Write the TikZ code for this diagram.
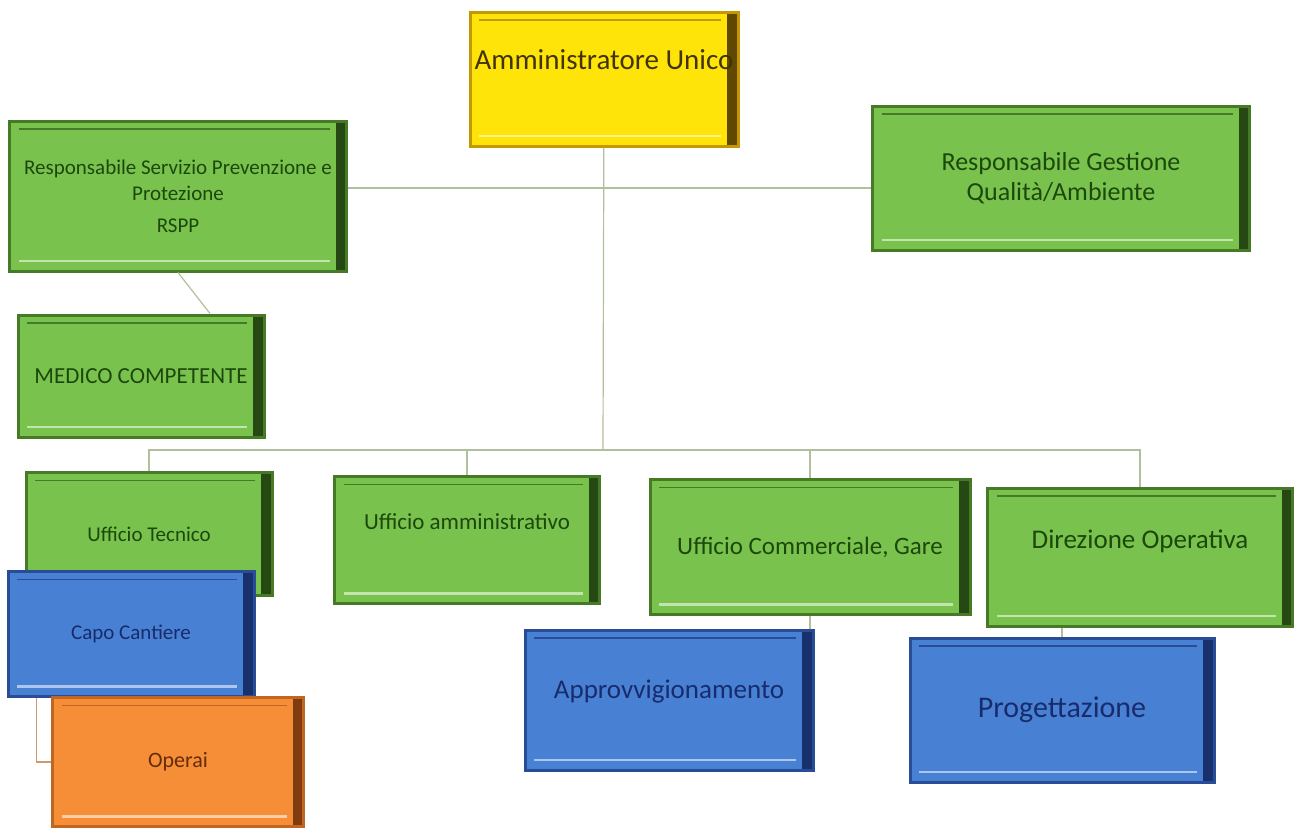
\documentclass[tikz,border=0pt]{standalone}
\usepackage{fontspec}
\setmainfont{Carlito}
\usepackage{xcolor}
\definecolor{verdeF}{RGB}{122,194,78}
\definecolor{verdeB}{RGB}{70,122,38}
\definecolor{verdeS}{RGB}{38,72,18}
\definecolor{verdeT}{RGB}{28,72,12}
\definecolor{gialloF}{RGB}{255,228,10}
\definecolor{gialloB}{RGB}{196,152,0}
\definecolor{gialloS}{RGB}{96,72,0}
\definecolor{gialloT}{RGB}{66,52,0}
\definecolor{bluF}{RGB}{72,128,212}
\definecolor{bluB}{RGB}{40,76,150}
\definecolor{bluS}{RGB}{24,48,108}
\definecolor{bluT}{RGB}{24,44,108}
\definecolor{arancioF}{RGB}{246,142,56}
\definecolor{arancioB}{RGB}{192,102,34}
\definecolor{arancioS}{RGB}{128,60,14}
\definecolor{arancioT}{RGB}{100,44,10}
\definecolor{linea}{RGB}{176,192,156}
\definecolor{lineaO}{RGB}{206,152,112}
\usepackage{tikz}
\usetikzlibrary{positioning}

\tikzset{
  box/.style n args={4}{draw=#2, line width=3pt, fill=#1, text=#4,
    align=center, inner sep=2pt,
    path picture={
      \fill[#3] ([xshift=-11pt]path picture bounding box.north east) rectangle (path picture bounding box.south east);
      \draw[#1!45!white, line width=2.5pt] ([shift={(9pt,10pt)}]path picture bounding box.south west) -- ([shift={(-17pt,10pt)}]path picture bounding box.south east);
      \draw[#2, line width=1.5pt] ([shift={(9pt,-8pt)}]path picture bounding box.north west) -- ([shift={(-17pt,-8pt)}]path picture bounding box.north east);
    }},
  verde/.style={box={verdeF}{verdeB}{verdeS}{verdeT}},
  giallo/.style={box={gialloF}{gialloB}{gialloS}{gialloT}},
  blu/.style={box={bluF}{bluB}{bluS}{bluT}},
  arancio/.style={box={arancioF}{arancioB}{arancioS}{arancioT}},
  conn/.style={draw=linea, line width=1.2pt},
}

\begin{document}
\begin{tikzpicture}[x=1pt,y=-1pt]
  \useasboundingbox (0,0) rectangle (1294,828);

  % Vertice
  \node[giallo, minimum width=268, minimum height=134, text depth=38pt,
        font=\fontsize{29}{34}\selectfont] (admin) at (604,79) {Amministratore Unico};

  % Staff
  \node[verde, minimum width=337, minimum height=150,
        font=\fontsize{21}{26}\selectfont] (rspp) at (178,196)
        {Responsabile Servizio Prevenzione e\\Protezione\\[6pt]RSPP};
  \node[verde, minimum width=377, minimum height=144,
        font=\fontsize{26}{30}\selectfont] (qual) at (1061,178)
        {Responsabile Gestione\\Qualità/Ambiente};
  \node[verde, minimum width=246, minimum height=122,
        font=\fontsize{23}{27}\selectfont] (medico) at (141,376) {MEDICO COMPETENTE};

  % Uffici
  \node[verde, minimum width=246, minimum height=123,
        font=\fontsize{21}{25}\selectfont] (tecnico) at (149,534) {Ufficio Tecnico};
  \node[verde, minimum width=265, minimum height=127, text depth=36pt,
        font=\fontsize{23}{27}\selectfont] (ammin) at (467,540) {Ufficio amministrativo};
  \node[verde, minimum width=320, minimum height=135,
        font=\fontsize{25}{30}\selectfont] (comm) at (810,547) {Ufficio Commerciale, Gare};
  \node[verde, minimum width=305, minimum height=138, text depth=36pt,
        font=\fontsize{27}{32}\selectfont] (dir) at (1140,557) {Direzione Operativa};

  % Livello inferiore
  \node[blu, minimum width=246, minimum height=125,
        font=\fontsize{21}{25}\selectfont] (capo) at (131,634) {Capo Cantiere};
  \node[arancio, minimum width=251, minimum height=129,
        font=\fontsize{22}{26}\selectfont] (operai) at (178,762) {Operai};
  \node[blu, minimum width=288, minimum height=140, text depth=22pt,
        font=\fontsize{27}{32}\selectfont] (appr) at (669,700) {Approvvigionamento};
  \node[blu, minimum width=304, minimum height=144,
        font=\fontsize{30}{36}\selectfont] (prog) at (1062,710) {Progettazione};

  % Collegamenti
  \coordinate (mid) at (603,188);
  \coordinate (bus) at (603,450);
  \draw[conn] (admin) -- (bus);
  \draw[conn] (rspp.east |- mid) -- (qual.west |- mid);
  \draw[conn] (rspp.south) -- ([xshift=69pt]medico.north);
  \draw[conn] (bus) -| (tecnico.north);
  \draw[conn] (bus) -| (ammin.north);
  \draw[conn] (bus) -| (comm.north);
  \draw[conn] (bus) -| (dir.north);
  \draw[conn] (comm.south) -- (comm.south |- appr.north);
  \draw[conn] (prog.north |- dir.south) -- (prog.north);
  \draw[conn, draw=lineaO] ([xshift=30pt]capo.south west) |- (operai.west);
\end{tikzpicture}
\end{document}
